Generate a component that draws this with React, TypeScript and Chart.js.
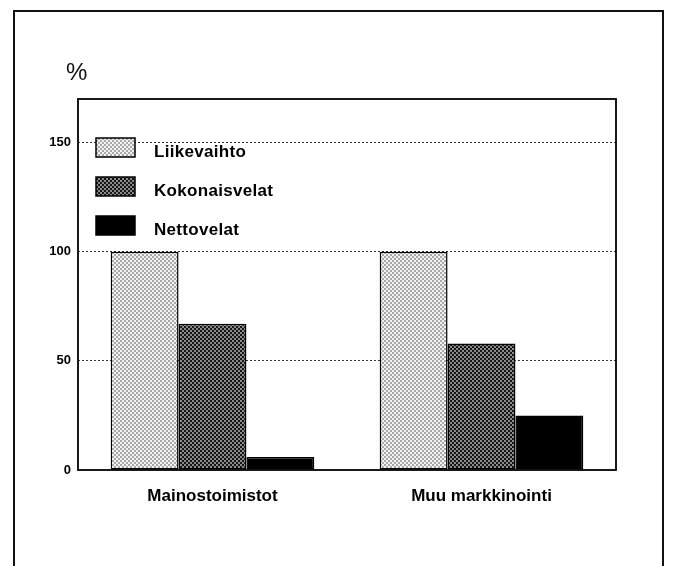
import React, { useEffect, useRef } from "react";
import { Chart, registerables } from "chart.js";

Chart.register(...registerables);

const categories = ["Mainostoimistot", "Muu markkinointi"];
const seriesNames = ["Liikevaihto", "Kokonaisvelat", "Nettovelat"];
const liikevaihto = [100, 100];
const kokonaisvelat = [67, 58];
const nettovelat = [6, 25];
const yTickValues = [0, 50, 100, 150];
const yMax = 170;
const unitLabel = "%";

const FONT = "'Liberation Sans', Arial, Helvetica, sans-serif";

function makePattern(bg: string, dot: string): CanvasPattern | string {
  const c = document.createElement("canvas");
  c.width = 4;
  c.height = 4;
  const ctx = c.getContext("2d");
  if (!ctx) return bg;
  ctx.fillStyle = bg;
  ctx.fillRect(0, 0, 4, 4);
  ctx.fillStyle = dot;
  ctx.fillRect(0, 0, 2, 2);
  ctx.fillRect(2, 2, 2, 2);
  const p = ctx.createPattern(c, "repeat");
  return p || bg;
}

export default function App() {
  const ref = useRef<HTMLCanvasElement | null>(null);

  useEffect(() => {
    if (!ref.current) return;
    const light = makePattern("#f2f2f2", "#a8a8a8");
    const dark = makePattern("#161616", "#8a8a8a");
    const fills = [light, dark, "#000000"];
    const values = [liikevaihto, kokonaisvelat, nettovelat];

    const decor = {
      id: "decor",
      beforeDraw(chart: any) {
        const ctx = chart.ctx;
        ctx.save();
        ctx.fillStyle = "#ffffff";
        ctx.fillRect(0, 0, chart.width, chart.height);
        ctx.strokeStyle = "#111";
        ctx.lineWidth = 2;
        ctx.strokeRect(14, 11, 649, 620);
        ctx.fillStyle = "#111";
        ctx.font = `24px ${FONT}`;
        ctx.textAlign = "left";
        ctx.textBaseline = "middle";
        ctx.fillText(unitLabel, 66, 73);
        ctx.restore();
      },
      afterDatasetsDraw(chart: any) {
        const ctx = chart.ctx;
        const a = chart.chartArea;
        ctx.save();
        chart.data.datasets.forEach((ds: any, i: number) => {
          const x = a.left + 18;
          const y = 138 + i * 39;
          ctx.fillStyle = ds.backgroundColor;
          ctx.fillRect(x, y, 39, 19);
          ctx.strokeStyle = "#000";
          ctx.lineWidth = 1.5;
          ctx.strokeRect(x, y, 39, 19);
          ctx.fillStyle = "#000";
          ctx.font = `bold 17px ${FONT}`;
          (ctx as any).letterSpacing = "0.3px";
          ctx.textAlign = "left";
          ctx.textBaseline = "middle";
          ctx.fillText(ds.label, x + 58, y + 14);
        });
        ctx.strokeStyle = "#000";
        ctx.lineWidth = 1.8;
        ctx.strokeRect(a.left, a.top, a.right - a.left, a.bottom - a.top);
        ctx.restore();
      },
    };

    const chart = new Chart(ref.current, {
      type: "bar",
      data: {
        labels: categories,
        datasets: seriesNames.map((name, i) => ({
          label: name,
          data: values[i],
          backgroundColor: fills[i] as any,
          borderColor: "#000",
          borderWidth: 1.5,
          borderSkipped: false,
          barPercentage: 1,
          categoryPercentage: 0.757,
        })),
      },
      options: {
        responsive: false,
        animation: false,
        layout: { padding: { left: 0, right: 58, top: 99, bottom: 56 } },
        plugins: { legend: { display: false }, tooltip: { enabled: false } },
        scales: {
          x: {
            grid: { display: false },
            border: { display: false },
            ticks: {
              color: "#000",
              font: { family: FONT, size: 17, weight: "bold" },
              padding: 8,
              maxRotation: 0,
            },
            afterFit(scale: any) {
              scale.height = 40;
            },
          },
          y: {
            min: 0,
            max: yMax,
            border: { display: false, dash: [2, 2] },
            grid: {
              drawTicks: false,
              color: (c: any) => (c.tick && c.tick.value === 0 ? "rgba(0,0,0,0)" : "#333"),
              lineWidth: 1,
            },
            afterBuildTicks(scale: any) {
              scale.ticks = yTickValues.map((v) => ({ value: v }));
            },
            ticks: {
              color: "#000",
              font: { family: FONT, size: 13, weight: "bold" },
              padding: 7,
            },
            afterFit(scale: any) {
              scale.width = 78;
            },
          },
        },
      },
      plugins: [decor],
    });
    return () => chart.destroy();
  }, []);

  return (
    <div style={{ position: "fixed", left: 0, top: 0, width: 674, height: 566, background: "#fff" }}>
      <canvas ref={ref} width={674} height={566} />
    </div>
  );
}
